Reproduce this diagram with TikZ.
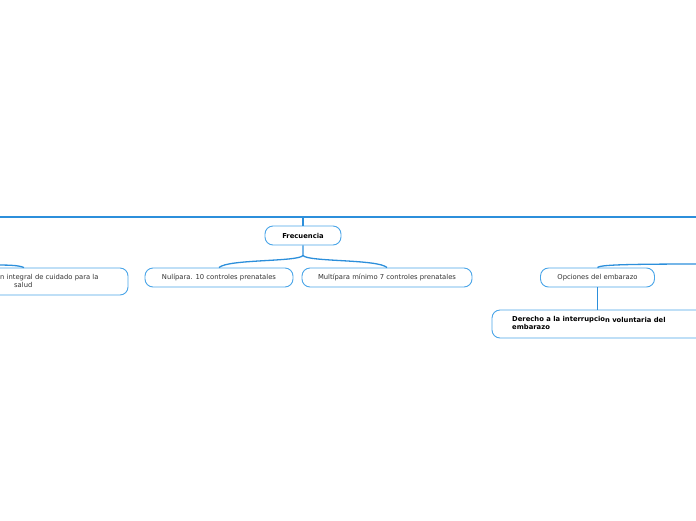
\documentclass[tikz,border=0pt]{standalone}
\usepackage{fontspec}
\setmainfont{DejaVu Sans}
\definecolor{boxline}{HTML}{4AA5E8}
\definecolor{connline}{HTML}{2C8FDB}
\definecolor{txt}{HTML}{333333}
\begin{document}
\begin{tikzpicture}[x=1pt,y=-1pt,
  box/.style={draw=boxline, line width=0.9pt, rounded corners=8pt, fill=white, inner sep=0pt,
    font=\fontsize{6.8}{8.5}\selectfont, text=txt},
  boldbox/.style={box, font=\fontsize{6.8}{8.5}\selectfont\bfseries, text=black},
  conn/.style={draw=connline, line width=1.3pt},
  mainline/.style={draw=connline, line width=2pt},
  lbl/.style={inner sep=0pt, font=\fontsize{6.8}{8.5}\selectfont, text=txt}]
\useasboundingbox (0,0) rectangle (696,520);
\begin{scope}
\clip (0,0) rectangle (696,520);
% coordinates for off-frame ends
\coordinate (mainL) at (-10,216.5);
\coordinate (mainR) at (706,216.5);
\coordinate (mainJ) at (303,216.5);
\coordinate (offL) at (-10,265);
\coordinate (offR) at (706,264);
% main line
\draw[mainline] (mainL) -- (mainR);
% nodes
\node[boldbox, minimum width=76pt, minimum height=19pt] (freq) at (303,235.5) {Frecuencia};
\node[box, minimum width=148pt, minimum height=19pt] (nuli) at (219,277.5) {Nulípara. 10 controles prenatales};
\node[box, minimum width=170pt, minimum height=19pt] (multi) at (387,277.5) {Multípara mínimo 7 controles prenatales};
\node[box, minimum width=114pt, minimum height=19pt] (opc) at (597.5,277.5) {Opciones del embarazo};
\node[box, minimum width=178pt, minimum height=27pt] (integ) at (39,281.5) {};
\node[lbl, anchor=north west, align=left] (integtxt) at (0,274) {n integral de cuidado para la\\\hspace*{14pt}salud};
\node[box, minimum width=230pt, minimum height=28pt] (der) at (607,324) {};
\node[lbl, anchor=north west, align=left, font=\fontsize{6.8}{8.5}\selectfont\bfseries, text=black] (dertxt) at (512,316) {Derecho a la interrupcio\raisebox{-0.8pt}{n voluntaria del}\\embarazo};
% connectors
\draw[conn] (mainJ) -- (freq.north);
\draw[conn] (freq.south) -- (303,255.5) .. controls (298,262) and (228,259) .. (nuli.north);
\draw[conn] (303,255.5) .. controls (308,262) and (378,259) .. (multi.north);
\draw[conn] (opc.north) .. controls (600,265) and (620,264) .. (offR);
\draw[conn] (opc.south) -- (der.north -| opc.south);
\draw[conn] (integ.north -| 24,0) .. controls (18,265) and (8,265) .. (offL);
\end{scope}
\end{tikzpicture}
\end{document}
